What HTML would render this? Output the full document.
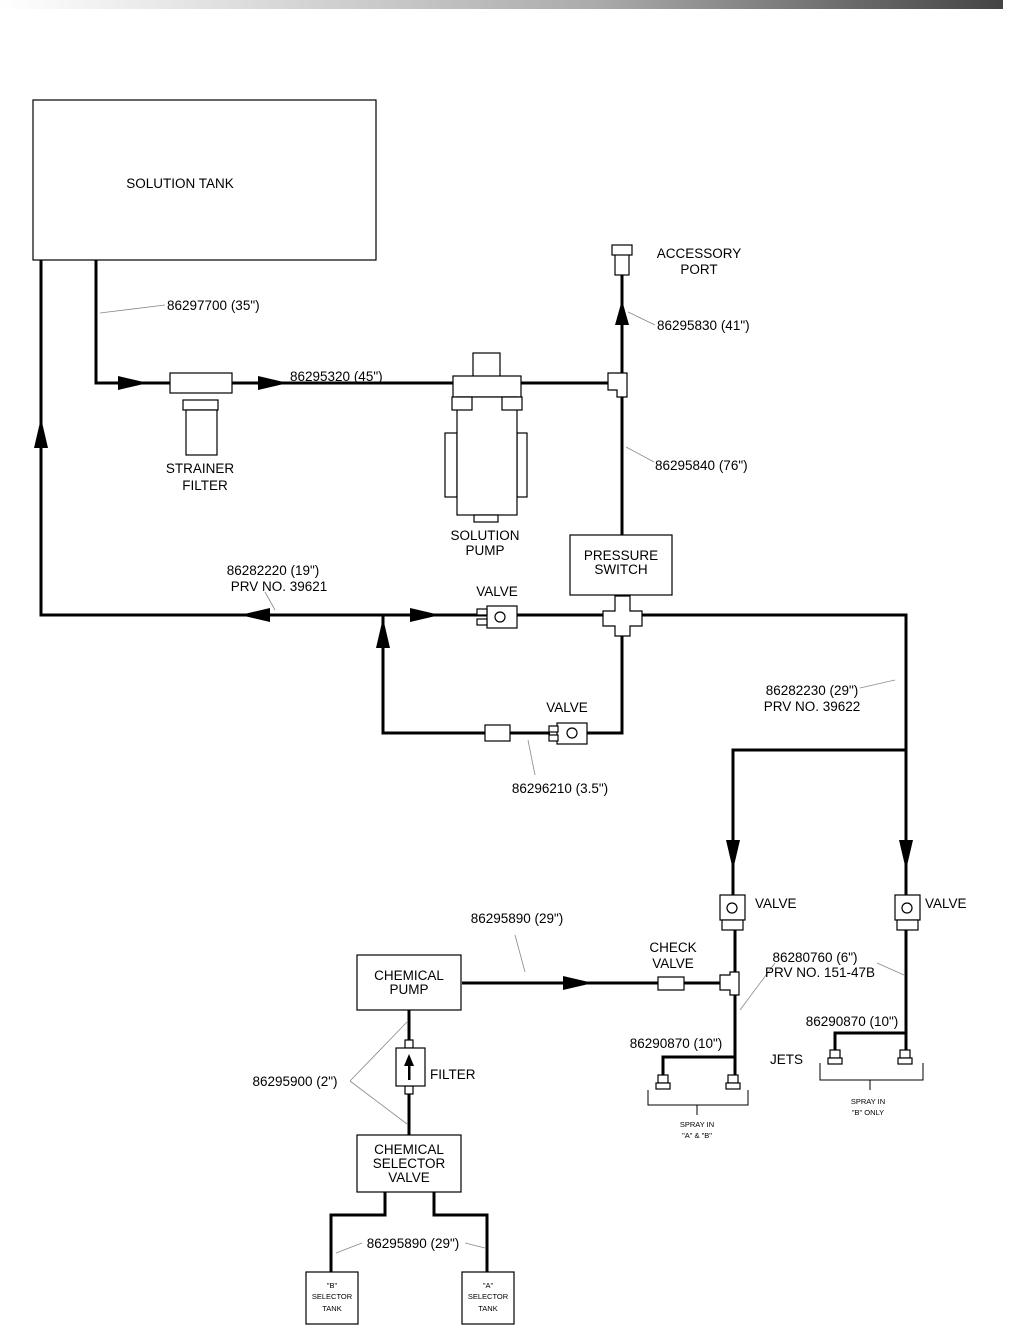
<!DOCTYPE html>
<html><head><meta charset="utf-8"><style>
html,body{margin:0;padding:0;background:#fff;}
svg{display:block;}
text{font-family:"Liberation Sans",Arial,sans-serif;font-size:13.5px;fill:#000;}
.s{font-size:7.5px;}
</style></head><body>
<svg width="1009" height="1328" viewBox="0 0 1009 1328" xmlns="http://www.w3.org/2000/svg">
<defs><linearGradient id="g" x1="0" x2="1"><stop offset="0" stop-color="#fff"/><stop offset="0.6" stop-color="#aaa"/><stop offset="1" stop-color="#444"/></linearGradient></defs>
<rect x="0" y="0" width="1003" height="9" fill="url(#g)"/>
<g fill="none" stroke="#000" stroke-width="3">
<path d="M41 260V615H603"/>
<path d="M96 260V383H170"/>
<path d="M232 383H453"/>
<path d="M521 383H610"/>
<path d="M622 275V535"/>
<path d="M640 615H906V895"/>
<path d="M622 636V733H587"/>
<path d="M550 733H383V615"/>
<path d="M733 895V750H906"/>
<path d="M462 983H658"/><path d="M684 983H720"/>
<path d="M735 930V1085"/><path d="M735 1057H663V1075"/>
<path d="M906 930V1050"/><path d="M906 1033H835V1050"/>
<path d="M409 1010V1135"/>
<path d="M385 1192V1215H331V1272"/>
<path d="M434 1192V1215H487V1272"/>
</g>
<g fill="#000">
<polygon points="118,376 148,383 118,390"/>
<polygon points="258,376 288,383 258,390"/>
<polygon points="615,325 622,300 629,325"/>
<polygon points="34,448 41,418 48,448"/>
<polygon points="270,608 240,615 270,622"/>
<polygon points="410,608 440,615 410,622"/>
<polygon points="376,648 383,618 390,648"/>
<polygon points="726,840 733,870 740,840"/>
<polygon points="899,840 906,870 913,840"/>
<polygon points="563,976 593,983 563,990"/>
</g>
<g fill="#fff" stroke="#000" stroke-width="1.2">
<rect x="33" y="100" width="343" height="160"/>
<rect x="170" y="373" width="62" height="20"/>
<rect x="183" y="400" width="35" height="10"/>
<rect x="186" y="410" width="31" height="45"/>
<rect x="473" y="353" width="27" height="24"/>
<rect x="453" y="376" width="68" height="21"/>
<rect x="445" y="433" width="12" height="64"/>
<rect x="517" y="433" width="10" height="64"/>
<rect x="457" y="397" width="60" height="118"/>
<rect x="452" y="397" width="20" height="13"/>
<rect x="502" y="397" width="20" height="13"/>
<rect x="474" y="515" width="24" height="7"/>
<path d="M608 373H627V397H617V390H608Z"/>
<rect x="615" y="253" width="14" height="22"/>
<rect x="612" y="245" width="20" height="10"/>
<rect x="570" y="535" width="102" height="60"/>
<path d="M615 596H630V611H642V626H630V636H615V626H603V611H615Z"/>
<rect x="487" y="606" width="30" height="22"/>
<rect x="477" y="609" width="10" height="6"/><rect x="477" y="619" width="10" height="6"/>
<rect x="485" y="725" width="25" height="16"/>
<rect x="557" y="723" width="30" height="21"/>
<rect x="549" y="726" width="9" height="6"/><rect x="549" y="735" width="9" height="6"/>
<rect x="720" y="895" width="25" height="25"/><rect x="722" y="920" width="21" height="10"/>
<rect x="895" y="895" width="25" height="25"/><rect x="897" y="920" width="21" height="10"/>
<rect x="658" y="977" width="26" height="13"/>
<path d="M720 975H730V972H739V995H730V990H720Z"/>
<rect x="658" y="1075" width="10" height="8"/><rect x="656" y="1083" width="14" height="6"/>
<rect x="728" y="1075" width="10" height="8"/><rect x="726" y="1083" width="14" height="6"/>
<rect x="830" y="1050" width="10" height="8"/><rect x="828" y="1058" width="14" height="6"/>
<rect x="900" y="1050" width="10" height="8"/><rect x="898" y="1058" width="14" height="6"/>
<rect x="357" y="955" width="104" height="55"/>
<rect x="405" y="1040" width="8" height="8"/><rect x="405" y="1086" width="8" height="8"/>
<rect x="396" y="1048" width="29" height="38"/>
<rect x="357" y="1135" width="104" height="57"/>
<rect x="306" y="1272" width="52" height="52"/>
<rect x="462" y="1272" width="52" height="52"/>
<circle cx="500" cy="617" r="5"/><circle cx="572" cy="733" r="5"/>
<circle cx="732" cy="908" r="5"/><circle cx="907" cy="908" r="5"/>
</g>
<polygon points="404,1066 409,1054 414,1066" fill="#000"/><rect x="408" y="1064" width="2.5" height="16" fill="#000"/>
<g fill="none" stroke="#000" stroke-width="1">
<path d="M648 1090V1105H748V1090M697 1105V1115"/>
<path d="M820 1063V1080H923V1063M870 1080V1090"/>
</g>
<g stroke="#888" stroke-width="0.8" fill="none">
<path d="M100 313L165 305"/><path d="M628 312L655 325"/><path d="M626 447L654 462"/>
<path d="M265 592L275 610"/><path d="M528 740L535 775"/><path d="M860 688L895 680"/>
<path d="M515 935L525 972"/><path d="M775 963L740 1010"/><path d="M877 963L904 975"/>
<path d="M350 1081L407 1022M350 1081L407 1124"/>
<path d="M336 1253L362 1243M465 1243L485 1248"/>
</g>
<g text-anchor="middle">
<text x="180" y="188">SOLUTION TANK</text>
<text x="200" y="473">STRAINER</text><text x="205" y="490">FILTER</text>
<text x="485" y="540">SOLUTION</text><text x="485" y="555">PUMP</text>
<text x="699" y="258">ACCESSORY</text><text x="699" y="274">PORT</text>
<text x="621" y="560">PRESSURE</text><text x="621" y="574">SWITCH</text>
<text x="273" y="575">86282220 (19")</text><text x="279" y="591">PRV NO. 39621</text>
<text x="497" y="596">VALVE</text><text x="567" y="712">VALVE</text>
<text x="560" y="793">86296210 (3.5")</text>
<text x="812" y="695">86282230 (29")</text><text x="812" y="711">PRV NO. 39622</text>
<text x="517" y="923">86295890 (29")</text>
<text x="673" y="952">CHECK</text><text x="673" y="968">VALVE</text>
<text x="815" y="962">86280760 (6")</text><text x="820" y="977">PRV NO. 151-47B</text>
<text x="852" y="1026">86290870 (10")</text><text x="676" y="1048">86290870 (10")</text>
<text x="409" y="980">CHEMICAL</text><text x="409" y="994">PUMP</text>
<text x="409" y="1154">CHEMICAL</text><text x="409" y="1168">SELECTOR</text><text x="409" y="1182">VALVE</text>
<text x="295" y="1086">86295900 (2")</text>
<text x="413" y="1248">86295890 (29")</text>
<text class="s" x="332" y="1288">"B"</text><text class="s" x="332" y="1299">SELECTOR</text><text class="s" x="332" y="1311">TANK</text>
<text class="s" x="488" y="1288">"A"</text><text class="s" x="488" y="1299">SELECTOR</text><text class="s" x="488" y="1311">TANK</text>
<text class="s" x="697" y="1127">SPRAY IN</text><text class="s" x="697" y="1138">"A" &amp; "B"</text>
<text class="s" x="868" y="1104">SPRAY IN</text><text class="s" x="868" y="1115">"B" ONLY</text>
</g>
<text x="290" y="381">86295320 (45")</text>
<text x="167" y="310">86297700  (35")</text>
<text x="657" y="330">86295830 (41")</text>
<text x="655" y="470">86295840 (76")</text>
<text x="755" y="908">VALVE</text><text x="925" y="908">VALVE</text>
<text x="430" y="1079">FILTER</text>
<text x="770" y="1064">JETS</text>
</svg>
</body></html>
